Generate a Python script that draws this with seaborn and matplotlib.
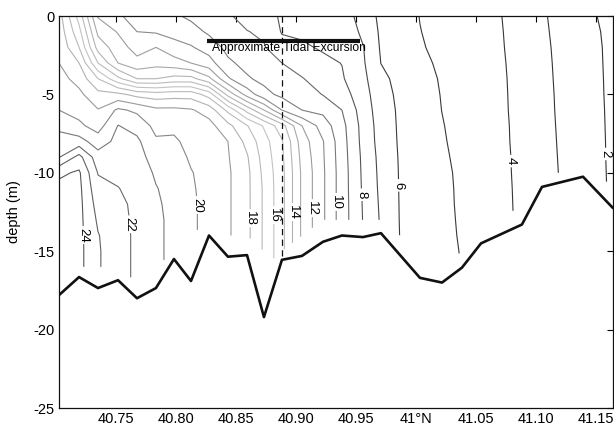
import numpy as np
import matplotlib
matplotlib.use("Agg")
import matplotlib.pyplot as plt
from matplotlib.colors import LinearSegmentedColormap, Normalize
import seaborn as sns

# Along-channel stations (deg N) and sampled depths (m below surface)
station_lat = [40.7025, 40.7192, 40.7350, 40.7517, 40.7675, 40.7833, 40.7983,
               40.8125, 40.8275, 40.8433, 40.8592, 40.8733, 40.8883, 40.9050,
               40.9225, 40.9383, 40.9558, 40.9708, 40.9867, 41.0033, 41.0217,
               41.0383, 41.0542, 41.0708, 41.0883, 41.1050, 41.1217, 41.1392,
               41.1517, 41.1642]
sample_depth = list(range(0, 19))

# Salinity profile at each station, surface downward in 1 m steps
salinity_profiles = [
    [18.4, 18.6, 18.8, 19.0, 19.33, 19.67, 20.0, 20.77, 21.39, 21.94, 23.8, 24.3, 24.45, 24.55, 24.6, 24.65, 24.7, 24.7],
    [15.6, 16.33, 17.0, 18.0, 18.67, 19.22, 19.65, 20.2, 21.4, 23.33, 24.15, 24.25, 24.3, 24.3, 24.3, 24.3, 24.3],
    [11.9, 12.75, 13.6, 15.0, 17.0, 18.31, 19.05, 19.58, 20.5, 21.42, 21.95, 22.3, 22.6, 22.85, 23.05, 23.1, 23.1],
    [11.1, 11.92, 12.47, 13.0, 15.25, 18.25, 20.18, 21.03, 21.28, 21.53, 21.78, 22.03, 22.2, 22.3, 22.4, 22.4, 22.4],
    [10.7, 11.0, 11.59, 12.33, 14.0, 17.67, 19.8, 20.64, 21.2, 21.45, 21.6, 21.7, 21.8, 21.8, 21.8, 21.8, 21.8, 21.8],
    [10.6, 10.9, 12.0, 12.67, 14.0, 17.43, 19.24, 19.71, 20.14, 20.5, 20.86, 21.05, 21.15, 21.24, 21.24, 21.24, 21.24],
    [10.15, 10.67, 11.36, 12.43, 14.33, 17.57, 19.24, 19.71, 20.2, 20.4, 20.55, 20.65, 20.7, 20.7, 20.7, 20.7],
    [9.8, 10.4, 11.09, 12.0, 14.33, 17.57, 19.1, 19.36, 19.62, 19.87, 20.05, 20.12, 20.18, 20.18, 20.18, 20.18, 20.18],
    [9.4, 9.83, 10.57, 11.4, 13.25, 16.57, 18.57, 19.35, 19.5, 19.6, 19.67, 19.67, 19.67, 19.67],
    [9.1, 9.4, 9.71, 10.18, 11.14, 13.67, 16.75, 18.29, 19.0, 19.07, 19.14, 19.14, 19.14, 19.14, 19.14],
    [8.7, 9.03, 9.37, 9.7, 10.12, 11.6, 14.67, 17.06, 17.7, 18.1, 18.26, 18.26, 18.26, 18.26, 18.26],
    [8.6, 8.85, 9.07, 9.4, 9.73, 10.33, 13.0, 15.89, 16.4, 16.6, 16.75, 16.85, 16.85, 16.85, 16.85, 16.85, 16.85, 16.85, 16.85],
    [7.8, 7.93, 8.33, 9.0, 9.37, 9.74, 11.0, 14.4, 15.1, 15.2, 15.3, 15.3, 15.3, 15.3, 15.3, 15.3],
    [7.65, 7.85, 8.13, 8.6, 9.05, 9.52, 10.0, 12.0, 12.5, 12.7, 12.83, 12.83, 12.83, 12.83, 12.83],
    [7.45, 7.65, 7.9, 8.2, 8.58, 8.96, 9.75, 10.54, 11.05, 11.1, 11.15, 11.15, 11.15, 11.15],
    [7.6, 7.75, 7.9, 7.98, 8.1, 8.45, 9.0, 9.3, 9.4, 9.45, 9.5, 9.5, 9.5, 9.5],
    [6.53, 6.79, 7.05, 7.13, 7.25, 7.4, 7.54, 7.67, 7.71, 7.8, 7.84, 7.88, 7.94, 7.97],
    [5.8, 5.85, 5.9, 5.99, 6.24, 6.4, 6.5, 6.57, 6.62, 6.7, 6.75, 6.79, 6.84, 6.89],
    [5.39, 5.45, 5.5, 5.61, 5.71, 5.78, 5.84, 5.86, 5.88, 5.91, 5.93, 5.94, 5.95, 5.96, 5.98],
    [4.98, 5.02, 5.08, 5.2, 5.31, 5.38, 5.43, 5.47, 5.5, 5.54, 5.57, 5.58, 5.6, 5.61, 5.64, 5.65, 5.66],
    [4.72, 4.75, 4.78, 4.85, 4.92, 4.96, 4.99, 5.04, 5.08, 5.13, 5.18, 5.2, 5.21, 5.23, 5.26, 5.28, 5.3],
    [4.48, 4.51, 4.54, 4.6, 4.65, 4.68, 4.7, 4.73, 4.76, 4.8, 4.84, 4.86, 4.87, 4.89, 4.91, 4.95],
    [4.26, 4.28, 4.31, 4.35, 4.39, 4.41, 4.43, 4.45, 4.47, 4.5, 4.52, 4.54, 4.55, 4.56],
    [4.02, 4.05, 4.07, 4.1, 4.12, 4.13, 4.14, 4.16, 4.17, 4.19, 4.2, 4.21, 4.22, 4.23],
    [3.57, 3.61, 3.65, 3.68, 3.71, 3.73, 3.74, 3.76, 3.77, 3.79, 3.8, 3.82, 3.83],
    [3.11, 3.15, 3.19, 3.22, 3.24, 3.26, 3.28, 3.3, 3.32, 3.34, 3.36],
    [2.71, 2.74, 2.77, 2.79, 2.81, 2.83, 2.84, 2.86, 2.88, 2.9, 2.92],
    [2.29, 2.33, 2.38, 2.39, 2.4, 2.42, 2.43, 2.44, 2.46, 2.47],
    [1.98, 2.06, 2.1, 2.11, 2.12, 2.13, 2.14, 2.15, 2.16, 2.16, 2.17],
    [1.7, 1.72, 1.75, 1.77, 1.79, 1.8, 1.82, 1.83, 1.84, 1.85, 1.86, 1.87],
]

# Channel bottom along the section
bottom_lat = [40.7025, 40.7192, 40.7350, 40.7517, 40.7675, 40.7833, 40.7983,
              40.8125, 40.8275, 40.8433, 40.8592, 40.8733, 40.8883, 40.9050,
              40.9225, 40.9383, 40.9558, 40.9708, 41.0033, 41.0217, 41.0383,
              41.0542, 41.0883, 41.1050, 41.1392, 41.1642]
bottom_depth = [-17.8, -16.65, -17.35, -16.85, -18.0, -17.35, -15.5, -16.9,
                -14.0, -15.35, -15.25, -19.2, -15.55, -15.3, -14.4, -14.0,
                -14.1, -13.85, -16.7, -17.0, -16.05, -14.5, -13.3, -10.9,
                -10.25, -12.25]

# Tidal excursion bar and mooring section line
excursion_lat = [40.8258, 40.9533]
excursion_depth = -1.6
excursion_text = "Approximate Tidal Excursion"
section_lat = 40.8883
section_depth = [0.0, -15.45]

odd_levels = list(range(1, 26, 2))
labelled_levels = list(range(2, 26, 2))
label_positions = [(41.1575, -8.8), (41.0808, -9.25), (40.985, -10.8),
                   (40.955, -11.4), (40.9325, -11.86), (40.9117, -12.25),
                   (40.8967, -12.5), (40.8808, -12.7), (40.8617, -12.9),
                   (40.8175, -12.05), (40.7567, -13.3), (40.7233, -13.97)]

x_ticks = [40.75, 40.80, 40.85, 40.90, 40.95, 41.00, 41.05, 41.10, 41.15]
x_tick_labels = ["40.75", "40.80", "40.85", "40.90", "40.95", "41\u00b0N",
                 "41.05", "41.10", "41.15"]
y_ticks = [0, -5, -10, -15, -20, -25]
y_tick_labels = ["0", "-5", "-10", "-15", "-20", "-25"]

sns.set_theme(style="white")
plt.rcParams["font.family"] = ["Liberation Sans", "DejaVu Sans"]
plt.rcParams["axes.unicode_minus"] = False
plt.rcParams["text.color"] = "black"
plt.rcParams["axes.labelcolor"] = "black"

# Gridded salinity, masked below the deepest sample of each profile
grid = np.full((len(sample_depth), len(station_lat)), np.nan)
for j, prof in enumerate(salinity_profiles):
    grid[:len(prof), j] = prof
grid = np.ma.masked_invalid(grid)
neg_depth = -np.asarray(sample_depth, dtype=float)

gray_map = LinearSegmentedColormap.from_list(
    "section_gray",
    [(0.0, "#333333"), (0.2, "#3a3a3a"), (0.29, "#555555"), (0.375, "#7a7a7a"),
     (0.46, "#9c9c9c"), (0.54, "#b4b4b4"), (0.625, "#c2c2c2"), (0.71, "#b2b2b2"),
     (0.75, "#9a9a9a"), (0.79, "#888888"), (0.875, "#6a6a6a"), (1.0, "#4f4f4f")])
shade = Normalize(1, 25)

fig = plt.figure(figsize=(6.14, 4.25), dpi=100)
ax = fig.add_axes([59 / 614, 17 / 425, 554 / 614, 392 / 425])

ax.contour(station_lat, neg_depth, grid, levels=odd_levels,
           cmap=gray_map, norm=shade, linewidths=0.8)
cs_even = ax.contour(station_lat, neg_depth, grid, levels=labelled_levels,
                     cmap=gray_map, norm=shade, linewidths=0.8)
labels = ax.clabel(cs_even, manual=label_positions, inline=True, fmt="%d",
                   fontsize=9.5, colors="black")
for t in labels:
    t.set_rotation(270)

sns.lineplot(x=bottom_lat, y=bottom_depth, sort=False, estimator=None,
             color="#111111", linewidth=1.9, ax=ax)

ax.plot(excursion_lat, [excursion_depth, excursion_depth], color="#111111",
        linewidth=3.0, solid_capstyle="butt")
ax.text(40.8300, excursion_depth - 0.45, excursion_text, fontsize=8.7,
        ha="left", va="center", color="black")
ax.plot([section_lat, section_lat], section_depth, color="#111111",
        linewidth=0.9, linestyle=(0, (5, 3.5)))

ax.set_xlim(40.7025, 41.1642)
ax.set_ylim(-25, 0)
ax.set_xticks(x_ticks)
ax.set_xticklabels(x_tick_labels)
ax.set_yticks(y_ticks)
ax.set_yticklabels(y_tick_labels)
ax.set_ylabel("depth (m)", fontsize=10.5, color="black", labelpad=9)
ax.tick_params(direction="in", length=4, width=0.8, top=True, right=True,
               labelsize=10.5, colors="black", pad=3)
for side in ax.spines.values():
    side.set_color("#111111")
    side.set_linewidth(0.9)

fig.savefig("out.png", dpi=100)
